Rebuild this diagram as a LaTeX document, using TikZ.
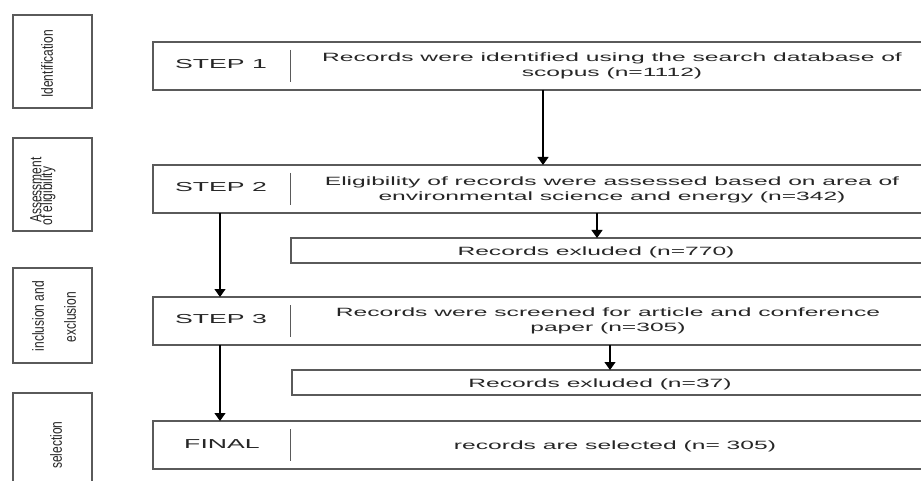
\documentclass[tikz,border=0pt]{standalone}
\usepackage{fontspec}
\setmainfont{Liberation Sans}
\usetikzlibrary{arrows.meta}
\definecolor{boxc}{HTML}{5A5A5A}
\definecolor{txtc}{HTML}{262626}
\newcommand{\hsx}[1]{\scalebox{2.05}[1]{#1}}
\newcommand{\vsx}[1]{\scalebox{1}[1.35]{#1}}
\begin{document}
\begin{tikzpicture}[x=1pt,y=-1pt,
  mainbox/.style={draw=boxc, line width=1.4pt, inner sep=0pt, outer sep=0pt, minimum width=790pt, minimum height=48pt, anchor=north west},
  exbox/.style={draw=boxc, line width=1.4pt, inner sep=0pt, outer sep=0pt, minimum width=650pt, minimum height=25pt, anchor=north west},
  sidebox/.style={draw=boxc, line width=1.4pt, inner sep=0pt, outer sep=0pt, minimum width=79pt, minimum height=93pt, anchor=north west},
  maintxt/.style={text=txtc, font=\fontsize{12}{14.5}\selectfont, align=center, inner sep=0pt},
  steptxt/.style={text=txtc, font=\fontsize{13}{15}\selectfont, inner sep=0pt},
  sidetxt/.style={text=txtc, font=\fontsize{12}{12}\selectfont, rotate=90, inner sep=0pt},
  divider/.style={draw=boxc, line width=1pt},
  arr/.style={draw=black, line width=1.2pt, -{Triangle[width=11pt,length=8pt]}}
]
\useasboundingbox (0,0) rectangle (921,481);
\clip (0,0) rectangle (921,481);

% side boxes
\node[sidebox] (id) at (13,15) {};
\node[sidebox] (as) at (13,138) {};
\node[sidebox, minimum height=95pt] (ie) at (13,268) {};
\node[sidebox, minimum height=100pt] (se) at (13,393) {};

\node[sidetxt] (idt) at (47,64) {\vsx{Identification}};
\node[sidetxt] (ast1) at (36,190) {\vsx{Assessment}};
\node[sidetxt] (ast2) at (48,196) {\vsx{of eligibility}};
\node[sidetxt] (iet1) at (38,316) {\vsx{inclusion and}};
\node[sidetxt] (iet2) at (70,317) {\vsx{exclusion}};
\node[sidetxt] (set) at (56,445) {\vsx{selection}};

% main boxes
\node[mainbox] (s1) at (153,42) {};
\node[mainbox] (s2) at (153,165) {};
\node[mainbox] (s3) at (153,297) {};
\node[mainbox] (fin) at (153,421) {};
\node[exbox] (ex1) at (291,238) {};
\node[exbox] (ex2) at (292,370) {};

% dividers
\draw[divider] (290,50) -- (290,82);
\draw[divider] (290,173) -- (290,205);
\draw[divider] (290,305) -- (290,337);
\draw[divider] (290,429) -- (290,461);

% step labels
\node[steptxt] (l1) at (221,64) {\hsx{STEP 1}};
\node[steptxt] (l2) at (221,187) {\hsx{STEP 2}};
\node[steptxt] (l3) at (221,319) {\hsx{STEP 3}};
\node[steptxt] (l4) at (222,444) {\hsx{FINAL}};

% main texts
\node[maintxt] (t1) at (612,66) {\hsx{Records were identified using the search database of}\\ \hsx{scopus (n=1112)}};
\node[maintxt] (t2) at (612,190) {\hsx{Eligibility of records were assessed based on area of}\\ \hsx{environmental science and energy (n=342)}};
\node[maintxt] (t3) at (608,321) {\hsx{Records were screened for article and conference}\\ \hsx{paper (n=305)}};
\node[maintxt] (e1) at (596,252) {\hsx{Records exluded (n=770)}};
\node[maintxt] (e2) at (600,384) {\hsx{Records exluded (n=37)}};
\node[maintxt] (t4) at (615,446) {\hsx{records are selected (n= 305)}};

% arrow columns
\coordinate (c1) at (543,0);
\coordinate (c2) at (597,0);
\coordinate (c3) at (610,0);
\coordinate (cl) at (220,0);

\draw[arr] (s1.south -| c1) -- (s2.north -| c1);
\draw[arr] (s2.south -| c2) -- (ex1.north -| c2);
\draw[arr] (s3.south -| c3) -- (ex2.north -| c3);
\draw[arr] (s2.south -| cl) -- (s3.north -| cl);
\draw[arr] (s3.south -| cl) -- (fin.north -| cl);
\end{tikzpicture}
\end{document}
